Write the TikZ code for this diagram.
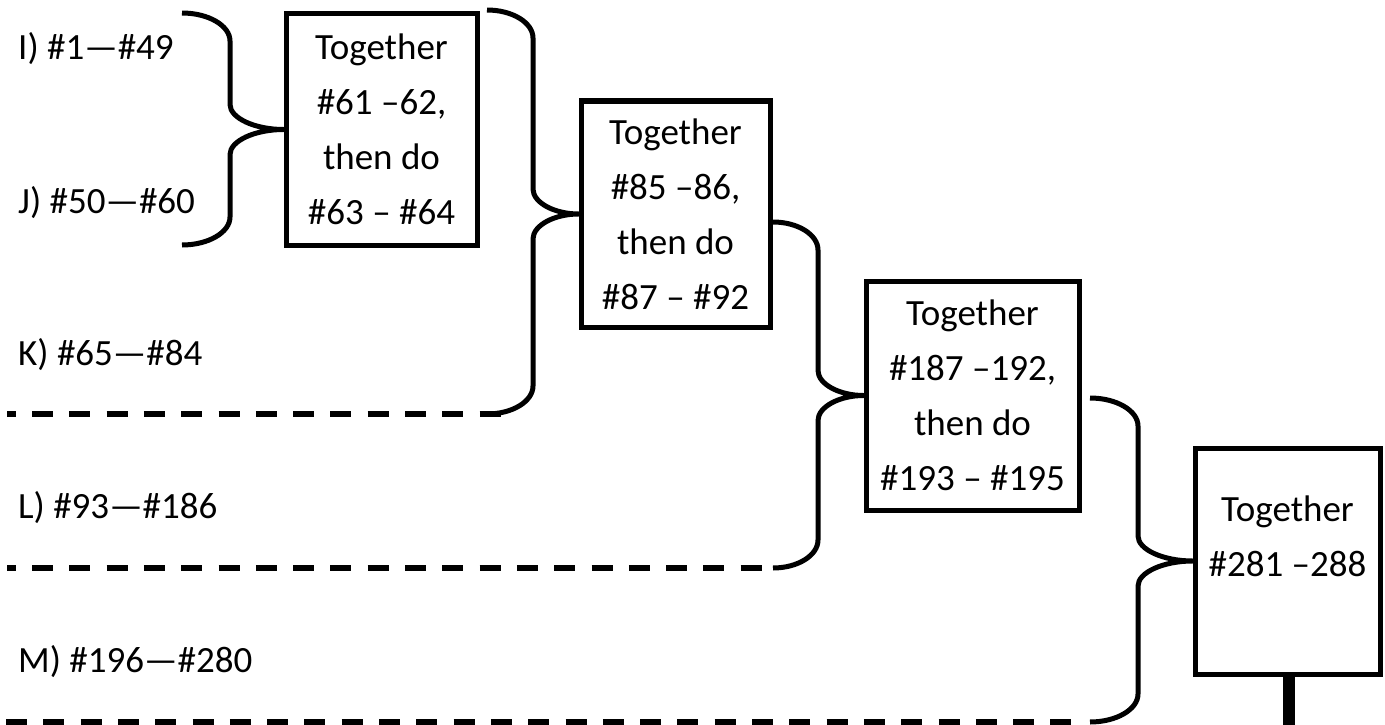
\documentclass[tikz,border=0pt]{standalone}
\usepackage{fontspec}
\setmainfont{Carlito}
\newcommand\mybrace[7]{%
  \draw[bracel] (#1,#2) .. controls ({#1+0.55*(#3-#1)},#2) and (#3,{#2+0.45*28}) .. (#3,{#2+28})
    -- (#3,{#4-25}) .. controls (#3,{#4-25+0.55*25}) and ({#3+0.45*(#7-#3)},#4) .. (#6)
    .. controls ({#3+0.45*(#7-#3)},#4) and (#3,{#4+25-0.55*25}) .. (#3,{#4+25})
    -- (#3,{#5-28}) .. controls (#3,{#5-0.45*28}) and ({#1+0.55*(#3-#1)},#5) .. (#1,#5);%
}
\begin{document}
\begin{tikzpicture}[x=1pt,y=-1pt,
  boxtext/.style={inner sep=0pt,align=center,font=\fontsize{37}{55}\selectfont},
  box/.style={boxtext,draw,line width=5pt},
  lbl/.style={anchor=base west,inner sep=0pt,font=\fontsize{37}{44}\selectfont},
  bracel/.style={line width=5pt,line join=round},
  dashl/.style={line width=6pt,dash pattern=on 21pt off 16.3pt}]
\useasboundingbox (0,0) rectangle (1385,725);
% boxes
\node[box,minimum width=191pt,minimum height=231pt] (b1) at (381.5,129.5) {Together\\\#61 –62,\\then do\\\#63 – \#64};
\node[box,minimum width=189pt,minimum height=226pt] (b2) at (675.5,214) {Together\\\#85 –86,\\then do\\\#87 – \#92};
\node[box,minimum width=213pt,minimum height=229pt] (b3) at (972.5,395.5) {Together\\\#187 –192,\\then do\\\#193 – \#195};
\node[box,minimum width=185pt,minimum height=226pt] (b4) at (1287.5,561) {};
\node[boxtext] (t4) at (1287.5,536) {Together\\\#281 –288};
% labels
\node[lbl] (li) at (18,60) {I) \#1—\#49};
\node[lbl] (lj) at (18,213) {J) \#50—\#60};
\node[lbl] (lk) at (18,365) {K) \#65—\#84};
\node[lbl] (ll) at (18,518) {L) \#93—\#186};
\node[lbl] (lm) at (18,672) {M) \#196—\#280};
% braces
\mybrace{182}{13}{230}{129.5}{245}{b1.west}{286}
\mybrace{487}{10}{533}{214}{414}{b2.west}{581}
\mybrace{773}{222}{818}{395.5}{568}{b3.west}{866}
\mybrace{1090}{398}{1138}{561}{722}{b4.west}{1195}
% dashed lines
\coordinate (ks) at (7,414);   \coordinate (ke) at (501,414);
\coordinate (ls) at (7,568);   \coordinate (le) at (770,568);
\coordinate (ms) at (6,722);   \coordinate (me) at (1085,722);
\draw[dashl,dash phase=12.3pt] (ks) -- (ke);
\draw[dashl,dash phase=12.3pt] (ls) -- (le);
\draw[dashl] (ms) -- (me);
% stem
\coordinate (stemend) at (1289,725);
\draw[line width=12pt] (b4.south -| stemend) -- (stemend);
\end{tikzpicture}
\end{document}
